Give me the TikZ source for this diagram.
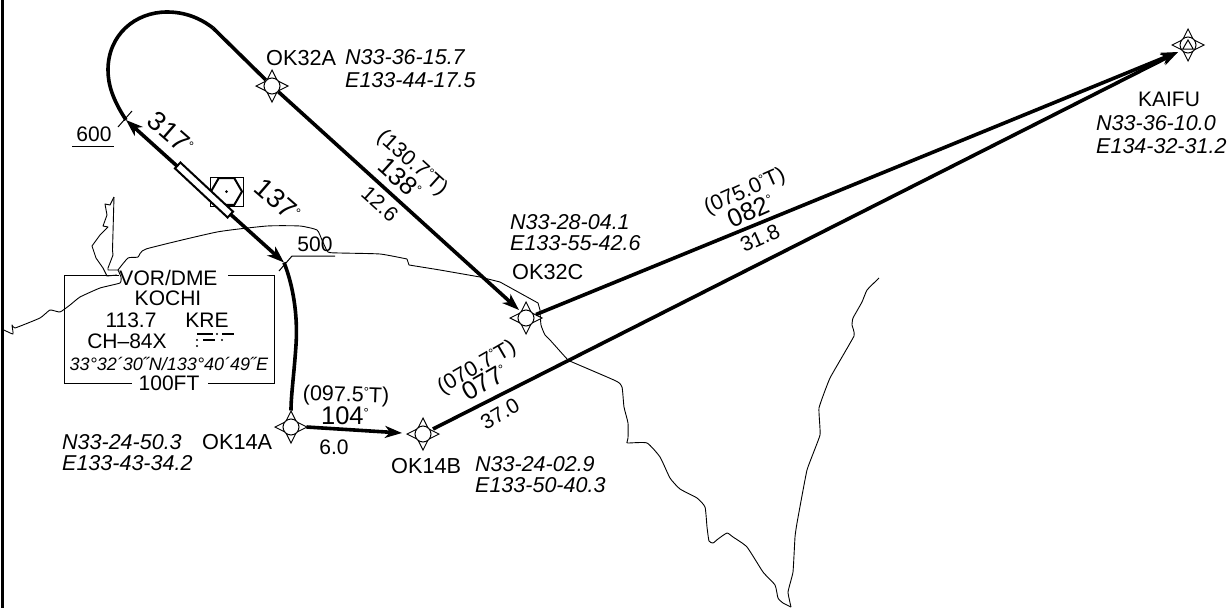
\documentclass[tikz,border=0pt]{standalone}
\usepackage{fontspec}
\setmainfont{Liberation Sans}
\usetikzlibrary{arrows.meta,shapes.geometric}
\newcommand\fs[1]{\fontsize{#1}{#1}\selectfont}
\newcommand\dg{\raisebox{.28em}{\fs{13}°}}
\newcommand\wptmarks[2]{%
  \begin{scope}[shift={(#1,#2)}]
    \draw[wtri] (-5,-6)--(0,-16)--(5,-6)--cycle;
    \draw[wtri] (-5,6)--(0,16)--(5,6)--cycle;
    \draw[wtri] (-6,-5)--(-16,0)--(-6,5)--cycle;
    \draw[wtri] (6,-5)--(16,0)--(6,5)--cycle;
  \end{scope}}
\tikzset{
  wtri/.style={draw=black,fill=white,line width=.9pt,line join=miter},
  wcirc/.style={circle,draw=black,fill=white,line width=1pt,minimum size=16pt,inner sep=0pt},
  coast/.style={draw=black,line width=.9pt,line join=round},
  track/.style={draw=black,line width=3.6pt},
  arr/.style={-{Stealth[length=17pt,width=12pt,inset=5pt]}},
  thin line/.style={draw=black,line width=1pt},
  lab/.style={inner sep=0pt,font=\fs{21}},
  wlab/.style={inner sep=0pt,font=\fs{21.7},anchor=west},
  blab/.style={inner sep=0pt,font=\fs{21.5}},
  ital/.style={inner sep=0pt,font=\fs{21.5}\itshape,anchor=west},
  brg/.style={inner sep=0pt,font=\fs{25.5}},
  brgl/.style={inner sep=0pt,font=\fs{27}},
  morse/.style={draw=black,line width=1.8pt},
  mdot/.style={circle,fill=black,inner sep=0pt,minimum size=2.4pt}
}
\begin{document}
\begin{tikzpicture}[x=1pt,y=-1pt]
\useasboundingbox (0,0) rectangle (1232,608);
% frame
\coordinate (ft) at (2.5,0); \coordinate (fb) at (2.5,608);
\draw[draw=black,line width=2.6pt] (ft)--(fb);
% coast
\draw[coast] plot[smooth,tension=.25] coordinates {(4,330)(13,334)(12,325)(15,328)(40,318)(50,310)(60,312)(70,305)(80,297)(100,288)(120,283)(121,277)(118,270)};
\draw[coast] (114,197)--(112.5,250)--(113,255)--(108,268)--(108,270)--(118,270);
\draw[coast] (114,197)--(110,205)--(105,204)--(107,215)--(103,226)--(108,227)--(100,235)--(92,246)--(96,258)--(103,268)--(107,276)--(117,275);
\draw[coast] plot[smooth,tension=.3] coordinates {(118,270)(128,258)(138,257)(146,249)(217,232)(267,226)(300,226)(317,230)(322,240)(328,252)(340,253)(380,254)(407,259)};
\draw[coast] (407,259)--(409,265)--(440,270)--(480,277)--(500,282)--(538,303)--(540,310);
\draw[coast] plot[smooth,tension=.3] coordinates {(540,310)(541,325)(545,335)(550,340)(568,360)(572,362)(616,381)(622,387)(624,407)(628,423)(628,438)(627,442)(628,443)(647,443)(660,457)(670,478)(680,489)(697,498)(705,507)(707,527)(709,541)(713,543)(718,539)(727,533)(733,537)(747,547)(763,572)(775,585)(778,598)(783,603)(791,607)};
\draw[coast] plot[smooth,tension=.2] coordinates {(791,607)(788,592)(793,572)(795,537)(797,523)(807,470)(820,435)(819,408)(830,378)(854,336)(852,325)(853,318)(862,302)(867,290)(879,278)};
% waypoints
\wptmarks{272}{86}\node[wcirc] (ok32a) at (272,86) {};
\wptmarks{526}{318}\node[wcirc] (ok32c) at (526,318) {};
\wptmarks{291}{427}\node[wcirc] (ok14a) at (291,427) {};
\wptmarks{423}{434}\node[wcirc] (ok14b) at (423,434) {};
\wptmarks{1188}{45}\node[wcirc] (kaifu) at (1188,45) {};
\node[draw=black,line width=1pt,regular polygon,regular polygon sides=3,inner sep=0pt,minimum size=12pt] (kaifutri) at (1188,46) {};
% free ends
\coordinate (turn) at (213,28);
\coordinate (p600) at (126,120);
\coordinate (p500) at (284,262.5);
\coordinate (k32) at (1178,52);
\coordinate (a14b) at (402,433);
\coordinate (a32c) at (519,310);
% tracks
\draw[track,line join=round] (turn) .. controls (200,18) and (185,12) .. (167,12)
   .. controls (135,12) and (108,35) .. (108,70)
   .. controls (108,85) and (113,100) .. (p600);
\draw[track] (turn) -- (ok32a);
\draw[track,arr] (ok32a) -- (a32c);
\draw[track,{Stealth[length=17pt,width=12pt,inset=5pt]}-{Stealth[length=17pt,width=12pt,inset=5pt]}] (p600) -- (p500);
\draw[track] (p500) .. controls (293,285) and (298,315) .. (296,345)
   .. controls (294,375) and (291,395) .. ([yshift=8pt]ok14a.north);
\draw[track,arr] ([xshift=7pt]ok14a.east) -- (a14b);
\draw[track,arr] (ok14b) ++(10,-5) -- (k32);
\draw[track,arr] (ok32c) ++(10,-3.5) -- (k32);
% DME symbol
\node[draw=black,line width=1pt,minimum width=33pt,minimum height=29pt,inner sep=0pt] (dmebox) at (226.5,191.5) {};
\node[draw=black,line width=2pt,regular polygon,regular polygon sides=6,inner sep=0pt,minimum size=31pt] (dmehex) at (226.5,191.5) {};
\node[circle,fill=black,inner sep=0pt,minimum size=3pt] (dmedot) at (226.5,191.5) {};
\node[draw=black,fill=white,line width=2pt,rotate=-43,minimum width=72pt,minimum height=8pt,inner sep=0pt] (loc) at (204,190) {};
% altitude ticks
\coordinate (t600a) at (118,127); \coordinate (t600b) at (132,111);
\coordinate (t500a) at (279,271); \coordinate (t500b) at (292,256);
\coordinate (u500b) at (335,256); \coordinate (u600a) at (72,146); \coordinate (u600b) at (114,146);
\draw[thin line] (t600a)--(t600b);
\draw[thin line] (t500a)--(t500b)--(u500b);
\draw[thin line] (u600a)--(u600b);
\node[lab] (a600) at (94,134) {600};
\node[lab] (a500) at (315,244) {500};
% nav box
\coordinate (b1) at (119,275.5); \coordinate (b2) at (64,275.5); \coordinate (b3) at (64,383); \coordinate (b4) at (132,383);
\coordinate (b5) at (208,383); \coordinate (b6) at (274,383); \coordinate (b7) at (274,275.5); \coordinate (b8) at (228,275.5);
\draw[thin line,line width=.9pt] (b1)--(b2)--(b3)--(b4);
\draw[thin line,line width=.9pt] (b5)--(b6)--(b7)--(b8);
\node[lab] (vor) at (168.5,278) {VOR/DME};
\node[lab] (kochi) at (168,298) {KOCHI};
\node[lab] (freq) at (131,320) {113.7};
\node[lab] (kre) at (207,320) {KRE};
\node[lab] (ch) at (127,341) {CH–84X};
\node[inner sep=0pt,font=\fs{18}\itshape] (pos) at (169,364) {33°32´30˝N/133°40´49˝E};
\node[lab] (ft100) at (169,383) {100FT};
% morse
\draw[morse] (197,334)--(213,334);
\node[mdot] (m1) at (217,334) {};
\draw[morse] (222,334)--(234,334);
\node[mdot] (m2) at (197,340) {};
\draw[morse] (203,340)--(215,340);
\node[mdot] (m3) at (222,340) {};
\node[mdot] (m4) at (197,346) {};
% waypoint labels
\node[wlab] (l32a) at (266,58) {OK32A};
\node[ital] (c32an) at (345,57) {N33-36-15.7};
\node[ital] (c32ae) at (345,80) {E133-44-17.5};
\node[ital] (c32cn) at (510,222) {N33-28-04.1};
\node[ital] (c32ce) at (510,243) {E133-55-42.6};
\node[wlab] (l32c) at (512,272) {OK32C};
\node[ital] (c14bn) at (475,464) {N33-24-02.9};
\node[ital] (c14be) at (475,485) {E133-50-40.3};
\node[wlab] (l14b) at (391,466) {OK14B};
\node[ital] (c14an) at (62,442) {N33-24-50.3};
\node[ital] (c14ae) at (62,463) {E133-43-34.2};
\node[wlab] (l14a) at (202,442) {OK14A};
\node[lab] (lk) at (1169,99) {KAIFU};
\node[ital] (ckn) at (1096,123) {N33-36-10.0};
\node[ital] (cke) at (1096,146) {E134-32-31.2};
% leg labels
\node[brgl,rotate=-41] (b317) at (171,133) {317\dg};
\node[brgl,rotate=-41] (b137) at (278,200) {137\dg};
\node[blab,rotate=-42] (t130) at (412,163) {(130.7\dg T)};
\node[brg,rotate=-42] (b138) at (400,178) {138\dg};
\node[lab,rotate=-42] (d126) at (380,204) {12.6};
\node[blab,rotate=24] (t075) at (745,192) {(075.0\dg T)};
\node[brg,rotate=24] (b082) at (751,211) {082\dg};
\node[lab,rotate=24] (d318) at (760,238) {31.8};
\node[blab,rotate=30] (t070) at (477,368) {(070.7\dg T)};
\node[brg,rotate=30] (b077) at (485,382) {077\dg};
\node[lab,rotate=30] (d370) at (500,414) {37.0};
\node[blab,rotate=-2] (t097) at (346,396) {(097.5\dg T)};
\node[brg] (b104) at (345,416) {104\dg};
\node[lab] (d60) at (334,447) {6.0};
\end{tikzpicture}
\end{document}
